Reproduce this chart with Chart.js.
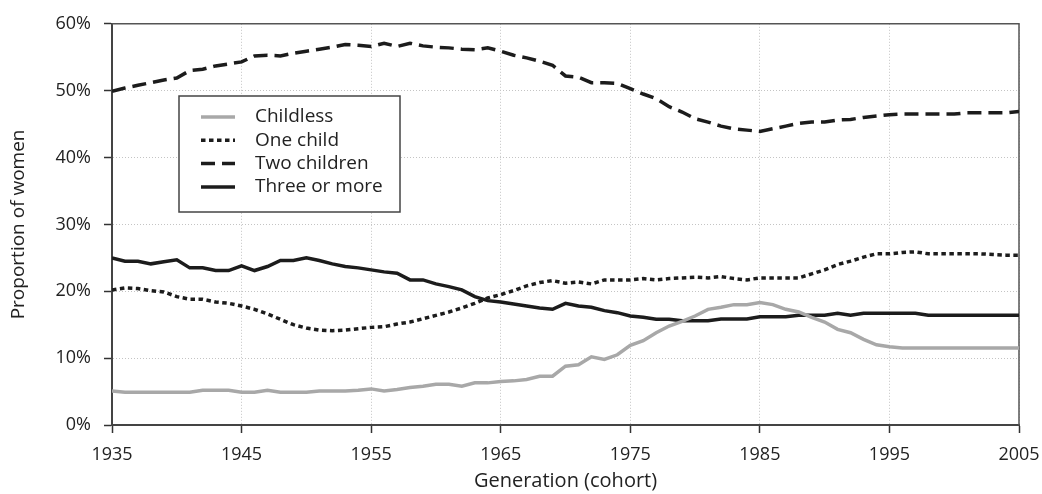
<!DOCTYPE html>
<html>
<head>
<meta charset="utf-8">
<script src="https://cdn.jsdelivr.net/npm/chart.js@4"></script>
<style>
html,body{margin:0;padding:0;background:#fff;}
#wrap{width:1042px;height:494px;position:relative;}
</style>
</head>
<body>
<div id="wrap"><canvas id="c" width="1042" height="494"></canvas></div>
<script>
const years = [1935,1936,1937,1938,1939,1940,1941,1942,1943,1944,1945,1946,1947,1948,1949,1950,1951,1952,1953,1954,1955,1956,1957,1958,1959,1960,1961,1962,1963,1964,1965,1966,1967,1968,1969,1970,1971,1972,1973,1974,1975,1976,1977,1978,1979,1980,1981,1982,1983,1984,1985,1986,1987,1988,1989,1990,1991,1992,1993,1994,1995,1996,1997,1998,1999,2000,2001,2002,2003,2004,2005];

const childless = [5.1,4.9,4.9,4.9,4.9,4.9,4.9,5.2,5.2,5.2,4.9,4.9,5.2,4.9,4.9,4.9,5.1,5.1,5.1,5.2,5.4,5.1,5.3,5.6,5.8,6.1,6.1,5.8,6.3,6.3,6.5,6.6,6.8,7.3,7.3,8.8,9.0,10.2,9.8,10.5,11.9,12.6,13.8,14.8,15.5,16.3,17.3,17.6,18.0,18.0,18.3,18.0,17.3,16.9,16.1,15.4,14.3,13.8,12.8,12.0,11.7,11.5,11.5,11.5,11.5,11.5,11.5,11.5,11.5,11.5,11.5];

const oneChild = [20.2,20.5,20.4,20.1,19.9,19.2,18.8,18.8,18.4,18.2,17.8,17.3,16.6,15.8,15.0,14.5,14.2,14.1,14.2,14.4,14.6,14.7,15.1,15.4,15.9,16.4,16.9,17.5,18.2,19.0,19.5,20.1,20.8,21.3,21.6,21.2,21.4,21.1,21.7,21.7,21.7,21.9,21.7,21.9,22.0,22.1,22.0,22.2,21.9,21.7,22.0,22.0,22.0,22.0,22.6,23.2,24.0,24.5,25.1,25.6,25.6,25.8,25.9,25.6,25.6,25.6,25.6,25.6,25.5,25.4,25.4];

const twoChildren = [49.9,50.4,50.8,51.2,51.6,51.9,53.0,53.2,53.7,54.0,54.3,55.2,55.3,55.2,55.6,55.9,56.2,56.5,56.9,56.8,56.6,57.1,56.6,57.1,56.7,56.5,56.4,56.2,56.1,56.4,55.9,55.3,54.9,54.4,53.8,52.2,52.0,51.2,51.2,51.1,50.3,49.5,48.8,47.6,46.8,45.8,45.3,44.7,44.3,44.1,43.9,44.3,44.7,45.1,45.3,45.3,45.6,45.7,46.0,46.2,46.4,46.5,46.5,46.5,46.5,46.5,46.7,46.7,46.7,46.7,46.9];

const threeOrMore = [25.0,24.5,24.5,24.1,24.4,24.7,23.5,23.5,23.1,23.1,23.8,23.1,23.7,24.6,24.6,25.0,24.6,24.1,23.7,23.5,23.2,22.9,22.7,21.7,21.7,21.1,20.7,20.2,19.2,18.6,18.4,18.1,17.8,17.5,17.3,18.2,17.8,17.6,17.1,16.8,16.3,16.1,15.8,15.8,15.6,15.6,15.6,15.85,15.85,15.85,16.2,16.2,16.2,16.4,16.4,16.4,16.7,16.4,16.7,16.7,16.7,16.7,16.7,16.4,16.4,16.4,16.4,16.4,16.4,16.4,16.4];

const seriesLabels = ['Childless','One child','Two children','Three or more'];
const xTitle = 'Generation (cohort)';
const yTitle = 'Proportion of women';

const FONT = '"Open Sans", "DejaVu Sans", sans-serif';
const TEXT = '#222';

function pts(vals){ return years.map((y,i)=>({x:y, y:vals[i]})); }

const boxPlugin = {
  id: 'boxPlugin',
  beforeDatasetsDraw(chart){
    const {ctx, chartArea:a} = chart;
    ctx.save();
    ctx.strokeStyle = '#555';
    ctx.lineWidth = 1.5;
    ctx.beginPath();
    ctx.moveTo(a.left, a.top);
    ctx.lineTo(a.right, a.top);
    ctx.lineTo(a.right, a.bottom);
    ctx.stroke();
    ctx.restore();
  },
  afterDatasetsDraw(chart, args, opts){
    const {ctx} = chart;
    const L = opts;
    ctx.save();
    ctx.fillStyle = '#fff';
    ctx.fillRect(L.left, L.top, L.width, L.height);
    ctx.strokeStyle = '#444';
    ctx.lineWidth = 1.5;
    ctx.strokeRect(L.left, L.top, L.width, L.height);
    ctx.font = '19px ' + FONT;
    ctx.textBaseline = 'middle';
    ctx.textAlign = 'left';
    chart.data.datasets.forEach((ds, i) => {
      const y = L.top + L.rowStart + i * L.rowGap;
      ctx.save();
      ctx.strokeStyle = ds.borderColor;
      ctx.lineWidth = ds.borderWidth;
      ctx.setLineDash(ds.borderDash || []);
      ctx.beginPath();
      ctx.moveTo(L.left + L.sampleX, y);
      ctx.lineTo(L.left + L.sampleX + L.sampleW, y);
      ctx.stroke();
      ctx.restore();
      ctx.fillStyle = TEXT;
      ctx.fillText(ds.label, L.left + L.textX, y);
    });
    ctx.restore();
  }
};

const ctx = document.getElementById('c').getContext('2d');
new Chart(ctx, {
  type: 'line',
  data: {
    datasets: [
      { label: seriesLabels[0], data: pts(childless), borderColor: '#a8a8a8', borderWidth: 3.5, pointRadius: 0, tension: 0 },
      { label: seriesLabels[1], data: pts(oneChild), borderColor: '#1c1c1c', borderWidth: 3.5, borderDash: [4.5, 3.5], pointRadius: 0, tension: 0 },
      { label: seriesLabels[2], data: pts(twoChildren), borderColor: '#1c1c1c', borderWidth: 3.5, borderDash: [14, 7], pointRadius: 0, tension: 0 },
      { label: seriesLabels[3], data: pts(threeOrMore), borderColor: '#1c1c1c', borderWidth: 3.5, pointRadius: 0, tension: 0 }
    ]
  },
  options: {
    responsive: false,
    animation: false,
    layout: { padding: { left: 0, right: 23, top: 19, bottom: 0 } },
    plugins: {
      legend: { display: false },
      tooltip: { enabled: false },
      boxPlugin: { left: 179, top: 96, width: 221, height: 116, rowStart: 21, rowGap: 23.3, sampleX: 22, sampleW: 34, textX: 76 }
    },
    scales: {
      x: {
        type: 'linear',
        min: 1935, max: 2005,
        afterFit(s){ s.height = 69; s.paddingLeft = 0; s.paddingRight = 0; },
        ticks: { stepSize: 10, autoSkip: false, maxRotation: 0, color: TEXT, padding: 11, font: { family: FONT, size: 18 }, callback: v => String(v) },
        grid: { color: '#c4c4c4', lineWidth: 1, tickLength: 8, tickColor: '#333', tickWidth: 1.5 },
        border: { display: true, color: '#444', width: 2, dash: [1, 2] },
        title: { display: true, text: xTitle, color: TEXT, font: { family: FONT, size: 20 }, padding: { top: 0, bottom: 1 } }
      },
      y: {
        min: 0, max: 60,
        afterFit(s){ s.width = 112; },
        ticks: { stepSize: 10, color: TEXT, padding: 13, font: { family: FONT, size: 18 }, callback: v => v + '%' },
        grid: { color: '#c4c4c4', lineWidth: 1, tickLength: 8, tickColor: '#333', tickWidth: 1.5 },
        border: { display: true, color: '#444', width: 2, dash: [1, 2] },
        title: { display: true, text: yTitle, color: TEXT, font: { family: FONT, size: 19 }, padding: { top: 7, bottom: 0 } }
      }
    }
  },
  plugins: [boxPlugin]
});
</script>
</body>
</html>
